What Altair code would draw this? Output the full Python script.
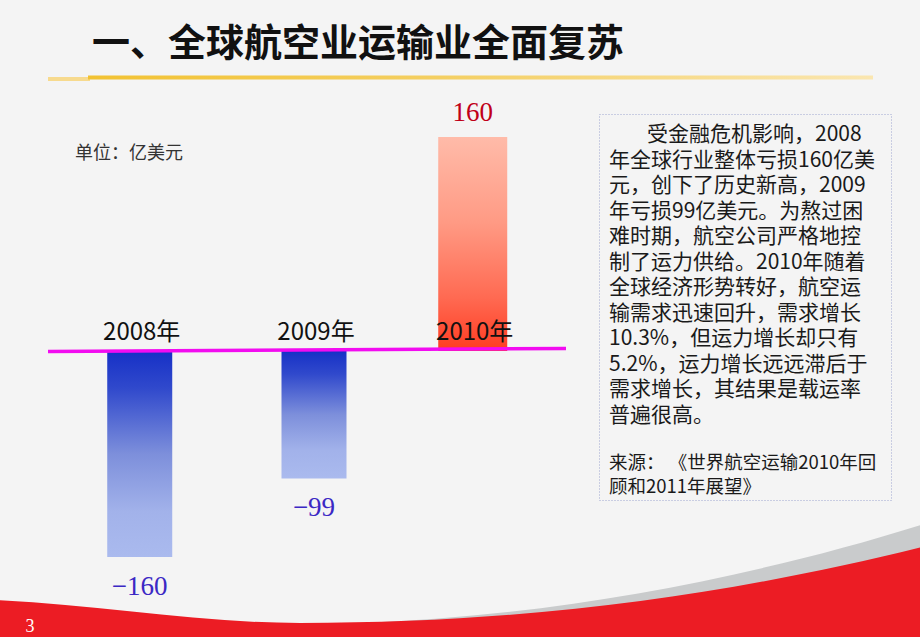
import altair as alt
import pandas as pd

# ---- data ----
years = [2008, 2009, 2010]
year_labels = ["2008年", "2009年", "2010年"]
values = [-160, -99, 160]

title_text = "一、全球航空业运输业全面复苏"
unit_text = "单位：亿美元"
para_first = "受金融危机影响，2008"
para_rest = [
    "年全球行业整体亏损160亿美",
    "元，创下了历史新高，2009",
    "年亏损99亿美元。为熬过困",
    "难时期，航空公司严格地控",
    "制了运力供给。2010年随着",
    "全球经济形势转好，航空运",
    "输需求迅速回升，需求增长",
    "10.3%，但运力增长却只有",
    "5.2%，运力增长远远滞后于",
    "需求增长，其结果是载运率",
    "普遍很高。",
]
source_lines = ["来源： 《世界航空运输2010年回", "顾和2011年展望》"]
page_number = "3"

df = pd.DataFrame({"year": years, "label": year_labels, "value": values})
one = alt.Data(values=[{}])

CJK = "Noto Sans CJK SC"
SERIF = "Liberation Serif"

xs = alt.Scale(domain=[2008, 2009, 2010], range=[134.5, 314, 477.5], zero=False, nice=False)
ys = alt.Scale(domain=[-160, 0, 160], range=[557, 351, 137], zero=False, nice=False)

X = alt.X("year:Q", scale=xs, axis=None)
Y = alt.Y("value:Q", scale=ys, axis=None)

blue_grad = alt.Gradient(
    gradient="linear", x1=0, x2=0, y1=0, y2=1,
    stops=[
        alt.GradientStop(color="#1630c6", offset=0),
        alt.GradientStop(color="#3049cc", offset=0.18),
        alt.GradientStop(color="#7d8fdb", offset=0.5),
        alt.GradientStop(color="#a2b2ea", offset=0.78),
        alt.GradientStop(color="#aabaee", offset=1),
    ],
)
red_grad = alt.Gradient(
    gradient="linear", x1=0, x2=0, y1=0, y2=1,
    stops=[
        alt.GradientStop(color="#ffbba9", offset=0),
        alt.GradientStop(color="#ff9a84", offset=0.4),
        alt.GradientStop(color="#ff6a52", offset=0.75),
        alt.GradientStop(color="#ff3c22", offset=1),
    ],
)
gold_grad = alt.Gradient(
    gradient="linear", x1=0, x2=1, y1=0, y2=0,
    stops=[
        alt.GradientStop(color="#f2c232", offset=0),
        alt.GradientStop(color="#f4cf62", offset=0.45),
        alt.GradientStop(color="#fae6b0", offset=1),
    ],
)

# decorations
gray_swoosh = alt.Chart(one).mark_point(
    shape="M 3.6 6.23 C 5.6 6.16 7.6 5.76 9.3 5.22 L 9.3 6.45 L 3.6 6.45 Z",
    size=40000, filled=True, opacity=1, color="#c9cbcc", strokeWidth=0,
).encode(x=alt.value(0), y=alt.value(0))

red_swoosh = alt.Chart(one).mark_point(
    shape="M -0.05 6.0 C 1.0 6.05 2.0 6.23 3.0 6.23 C 5.5 6.23 7.5 5.9 9.3 5.45 L 9.3 6.45 L -0.05 6.45 Z",
    size=40000, filled=True, opacity=1, color="#ec1c24", strokeWidth=0,
).encode(x=alt.value(0), y=alt.value(0))

page_num = alt.Chart(one).mark_text(
    text=page_number, font=SERIF, fontSize=18, color="#ffffff", align="center", baseline="alphabetic"
).encode(x=alt.value(30), y=alt.value(632))

title = alt.Chart(one).mark_text(
    text=title_text, font=CJK, fontSize=38, fontWeight="bold", color="#111111",
    align="left", baseline="middle",
).encode(x=alt.value(92), y=alt.value(45))

title_line_left = alt.Chart(one).mark_rect(color="#f7da8e").encode(
    x=alt.value(48), x2=alt.value(90), y=alt.value(77), y2=alt.value(81)
)
title_line = alt.Chart(one).mark_rect(color=gold_grad).encode(
    x=alt.value(88), x2=alt.value(873), y=alt.value(75.5), y2=alt.value(79.5)
)

unit = alt.Chart(one).mark_text(
    text=unit_text, font=CJK, fontSize=18, color="#333333", align="left", baseline="alphabetic"
).encode(x=alt.value(75), y=alt.value(159))

box = alt.Chart(one).mark_rect(
    fillOpacity=0, stroke="#9ea7d0", strokeWidth=1, strokeDash=[1, 2]
).encode(x=alt.value(599.5), x2=alt.value(891.5), y=alt.value(114.5), y2=alt.value(500.5))

body1 = alt.Chart(one).mark_text(
    text=para_first, font=CJK, fontSize=21, color="#1a1a1a", align="left", baseline="alphabetic"
).encode(x=alt.value(647), y=alt.value(141))

body_rest = alt.Chart(one).mark_text(
    font=CJK, fontSize=21, color="#1a1a1a", align="left", baseline="alphabetic",
    lineBreak="\n", lineHeight=25.5,
).encode(x=alt.value(609), y=alt.value(166.5), text=alt.value("\n".join(para_rest)))

source = alt.Chart(one).mark_text(
    font=CJK, fontSize=18.5, color="#1a1a1a", align="left", baseline="alphabetic",
    lineBreak="\n", lineHeight=24,
).encode(x=alt.value(609), y=alt.value(469), text=alt.value("\n".join(source_lines)))

# chart marks
base = alt.Chart(df)
neg_bars = base.transform_filter("datum.value < 0").mark_bar(width=65, color=blue_grad).encode(
    x=X, y=Y, y2=alt.datum(0)
)
pos_bars = base.transform_filter("datum.value > 0").mark_bar(width=69, color=red_grad).encode(
    x=X, y=Y, y2=alt.datum(0)
)

baseline_rule = alt.Chart(one).mark_rule(color="#f20cf0", strokeWidth=3.5).encode(
    x=alt.value(48), x2=alt.value(566), y=alt.value(351.5), y2=alt.value(348.5)
)

year_text = base.mark_text(
    font=CJK, fontSize=24, color="#111111", align="center", baseline="alphabetic", dy=-11, dx=2
).encode(x=X, y=alt.Y("zero:Q", scale=ys, axis=None), text="label:N").transform_calculate(zero="0")

pos_labels = base.transform_filter("datum.value > 0").mark_text(
    font=SERIF, fontSize=27, color="#c00018", align="center", baseline="alphabetic", dy=-16
).encode(x=X, y=Y, text=alt.Text("value:Q", format="d"))

neg_labels = base.transform_filter("datum.value < 0").mark_text(
    font=SERIF, fontSize=27, color="#3b28c4", align="center", baseline="alphabetic", dy=38
).encode(x=X, y=Y, text=alt.Text("value:Q", format="d"))

chart = alt.layer(
    gray_swoosh, red_swoosh, page_num, title_line_left, title_line, title, unit, box,
    body1, body_rest, source,
    neg_bars, pos_bars, baseline_rule, year_text, pos_labels, neg_labels,
).properties(
    width=920, height=637,
    autosize=alt.AutoSizeParams(type="none"),
    padding=0,
    background="#f4f4f4",
).configure_view(stroke=None)

chart.save("out.html", embed_options={"renderer": "svg", "actions": False})
